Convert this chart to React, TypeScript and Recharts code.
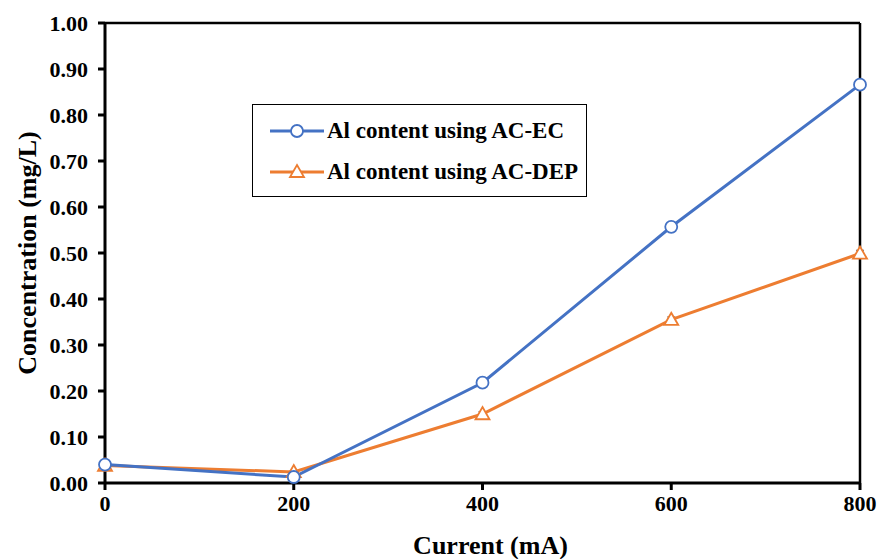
import {
  LineChart,
  Line,
  XAxis,
  YAxis,
  Legend,
  ReferenceLine,
  ErrorBar,
} from "recharts";

const currents = [0, 200, 400, 600, 800];
const ecValues = [0.04, 0.013, 0.218, 0.557, 0.866];
const ecErrors = [0.005, 0.004, 0.006, 0.008, 0.01];
const depValues = [0.038, 0.024, 0.15, 0.355, 0.499];
const depErrors = [0.004, 0.003, 0.005, 0.006, 0.007];
const yTicks = [0, 0.1, 0.2, 0.3, 0.4, 0.5, 0.6, 0.7, 0.8, 0.9, 1.0];
const xTicks = [0, 200, 400, 600, 800];

const data = currents.map((c, i) => ({
  current: c,
  ec: ecValues[i],
  ecErr: ecErrors[i],
  dep: depValues[i],
  depErr: depErrors[i],
}));

const BLUE = "#4472C4";
const ORANGE = "#ED7D31";
const FONT = "'Liberation Serif', 'Times New Roman', serif";

function Circle(props: any) {
  const { cx, cy, index } = props;
  return <circle key={"c" + index} cx={cx} cy={cy} r={6} fill="white" stroke={BLUE} strokeWidth={1.8} />;
}

function Triangle(props: any) {
  const { cx, cy, index } = props;
  const s = 7;
  return (
    <path
      key={"t" + index}
      d={`M${cx},${cy - s} L${cx + s},${cy + s * 0.75} L${cx - s},${cy + s * 0.75} Z`}
      fill="white"
      stroke={ORANGE}
      strokeWidth={1.8}
    />
  );
}

function LegendBox() {
  const rows = [
    { label: "Al content using AC-EC", color: BLUE, shape: "circle" },
    { label: "Al content using AC-DEP", color: ORANGE, shape: "triangle" },
  ];
  return (
    <div
      style={{
        border: "1.5px solid black",
        background: "white",
        width: 335,
        height: 93,
        boxSizing: "border-box",
        padding: "5px 0 0 17px",
        fontFamily: FONT,
        fontWeight: "bold",
        fontSize: 23,
        textAlign: "left",
      }}
    >
      {rows.map((r) => (
        <div key={r.label} style={{ display: "flex", alignItems: "center", height: 41 }}>
          <svg width={54} height={20} style={{ marginRight: 3 }}>
            <line x1={0} y1={10} x2={54} y2={10} stroke={r.color} strokeWidth={3} />
            {r.shape === "circle" ? (
              <circle cx={27} cy={10} r={6} fill="white" stroke={r.color} strokeWidth={1.8} />
            ) : (
              <path d="M27,3 L34,15 L20,15 Z" fill="white" stroke={r.color} strokeWidth={1.8} />
            )}
          </svg>
          <span>{r.label}</span>
        </div>
      ))}
    </div>
  );
}

export default function App() {
  return (
    <div style={{ position: "absolute", left: 0, top: 0, width: 882, height: 559, background: "white" }}>
      <LineChart width={882} height={559} data={data} margin={{ top: 23, right: 22, left: 0, bottom: 0 }}>
        <XAxis
          dataKey="current"
          type="number"
          domain={[0, 800]}
          ticks={xTicks}
          height={76}
          stroke="#000"
          strokeWidth={3}
          tickSize={7}
          tick={{ fill: "#000", fontFamily: FONT, fontWeight: "bold", fontSize: 22 }}
          tickMargin={5}
          label={{
            value: "Current (mA)",
            position: "insideBottom",
            offset: 5,
            dx: 8,
            fill: "#000",
            fontFamily: FONT,
            fontWeight: "bold",
            fontSize: 26,
          }}
        />
        <YAxis
          type="number"
          domain={[0, 1]}
          ticks={yTicks}
          width={105}
          stroke="#000"
          strokeWidth={3}
          tickSize={7}
          tickMargin={10}
          tickFormatter={(v: number) => v.toFixed(2)}
          tick={{ fill: "#000", fontFamily: FONT, fontWeight: "bold", fontSize: 22 }}
          label={{
            value: "Concentration (mg/L)",
            angle: -90,
            position: "insideLeft",
            offset: 27,
            style: { textAnchor: "middle" },
            fill: "#000",
            fontFamily: FONT,
            fontWeight: "bold",
            fontSize: 26,
          }}
        />
        <ReferenceLine y={1} stroke="#000" strokeWidth={2.5} />
        <ReferenceLine x={800} stroke="#000" strokeWidth={2.5} />
        <Legend
          layout="horizontal"
          verticalAlign="middle"
          align="center"
          content={<LegendBox />}
          wrapperStyle={{ position: "absolute", left: 252, top: 104, width: 335, height: 93 }}
        />
        <Line
          dataKey="dep"
          name="Al content using AC-DEP"
          stroke={ORANGE}
          strokeWidth={3}
          dot={Triangle}
          activeDot={false}
          isAnimationActive={false}
        >
          <ErrorBar dataKey="depErr" width={4} stroke="#555" strokeWidth={1} />
        </Line>
        <Line
          dataKey="ec"
          name="Al content using AC-EC"
          stroke={BLUE}
          strokeWidth={3}
          dot={Circle}
          activeDot={false}
          isAnimationActive={false}
        >
          <ErrorBar dataKey="ecErr" width={4} stroke="#555" strokeWidth={1} />
        </Line>
      </LineChart>
    </div>
  );
}
